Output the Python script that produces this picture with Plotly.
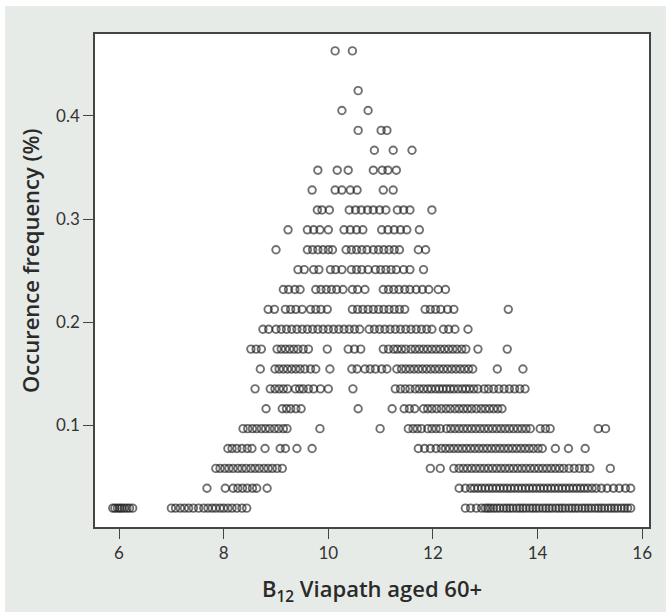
import plotly.graph_objects as go

# Occurrence frequency levels (%) - each row of points in the chart
freq_levels = [0.0193, 0.0386, 0.0579, 0.0772, 0.0965, 0.1158, 0.1351, 0.1544,
               0.1737, 0.1930, 0.2123, 0.2316, 0.2509, 0.2702, 0.2895, 0.3088,
               0.3281, 0.3474, 0.3667, 0.3860, 0.4053, 0.4246, 0.4632]

# B12 values observed at each frequency level
b12_f01 = [5.88, 5.92, 5.97, 6.01, 6.05, 6.10, 6.15, 6.20, 6.26,
           7.00, 7.08, 7.17, 7.25, 7.33, 7.42, 7.52, 7.62, 7.70, 7.78, 7.85, 7.93, 8.00,
           8.08, 8.16, 8.25, 8.35, 8.44,
           12.62, 12.72, 12.83, 12.93, 13.00, 13.05, 13.10, 13.16, 13.22, 13.28, 13.35,
           13.41, 13.47, 13.53, 13.60, 13.66, 13.72, 13.78, 13.85, 13.91, 13.97, 14.03,
           14.10, 14.16, 14.22, 14.28, 14.35, 14.41, 14.47, 14.53, 14.60, 14.66, 14.72,
           14.78, 14.85, 14.91, 14.97, 15.03, 15.10, 15.16, 15.22, 15.28, 15.35, 15.41,
           15.47, 15.53, 15.60, 15.66, 15.72, 15.78]
b12_f02 = [7.68, 8.03, 8.18, 8.27, 8.36, 8.45, 8.55, 8.63, 8.83,
           12.50, 12.62, 12.72, 12.79, 12.86, 12.93, 13.00, 13.07, 13.14, 13.21, 13.28,
           13.35, 13.42, 13.49, 13.56, 13.63, 13.70, 13.77, 13.84, 13.91, 13.98, 14.05,
           14.12, 14.19, 14.26, 14.33, 14.40, 14.47, 14.54, 14.61, 14.68, 14.75, 14.82,
           14.89, 14.96, 15.04, 15.12, 15.22, 15.33, 15.45, 15.56, 15.68, 15.78]
b12_f03 = [7.85, 7.93, 8.02, 8.10, 8.18, 8.27, 8.35, 8.43, 8.52, 8.60, 8.68, 8.77,
           8.85, 8.93, 9.02, 9.12,
           11.95, 12.14, 12.40, 12.50, 12.58, 12.66, 12.74, 12.82, 12.90, 12.98, 13.06,
           13.14, 13.22, 13.30, 13.38, 13.46, 13.54, 13.62, 13.70, 13.78, 13.86, 13.94,
           14.02, 14.10, 14.18, 14.26, 14.34, 14.42, 14.50, 14.60, 14.70, 14.80, 14.90,
           15.00, 15.39]
b12_f04 = [8.08, 8.16, 8.25, 8.35, 8.45, 8.54, 8.79, 9.08, 9.18, 9.40, 9.69,
           11.72, 11.84, 11.95, 12.06, 12.16, 12.24, 12.32, 12.40, 12.48, 12.56, 12.64,
           12.72, 12.80, 12.88, 12.96, 13.04, 13.12, 13.20, 13.28, 13.36, 13.44, 13.52,
           13.60, 13.68, 13.76, 13.84, 13.92, 14.01, 14.09, 14.34, 14.59, 14.91]
b12_f05 = [8.37, 8.46, 8.55, 8.63, 8.72, 8.80, 8.88, 8.97, 9.05, 9.14, 9.21, 9.84, 10.99,
           11.53, 11.62, 11.70, 11.78, 11.90, 11.98, 12.06, 12.14, 12.26, 12.34, 12.42,
           12.50, 12.58, 12.66, 12.74, 12.82, 12.90, 12.98, 13.06, 13.14, 13.22, 13.30,
           13.38, 13.46, 13.54, 13.62, 13.70, 13.78, 13.86, 14.05, 14.15, 14.24, 15.16, 15.30]
b12_f06 = [8.81, 9.12, 9.20, 9.28, 9.38, 9.48, 10.57,
           11.22, 11.45, 11.55, 11.65, 11.82, 11.90, 11.98, 12.07, 12.16, 12.25, 12.33,
           12.42, 12.50, 12.58, 12.66, 12.74, 12.83, 12.92, 13.00, 13.08, 13.16, 13.24, 13.32]
b12_f07 = [8.60, 8.89, 8.98, 9.06, 9.14, 9.22, 9.37, 9.45, 9.52, 9.62, 9.72, 9.85, 10.00,
           10.47, 11.28, 11.38, 11.47, 11.56, 11.66, 11.74, 11.82, 11.90, 11.97, 12.05,
           12.12, 12.19, 12.26, 12.33, 12.40, 12.48, 12.56, 12.63, 12.70, 12.78, 12.86,
           12.98, 13.06, 13.16, 13.26, 13.36, 13.46, 13.56, 13.66, 13.76]
b12_f08 = [8.70, 8.98, 9.06, 9.14, 9.22, 9.30, 9.38, 9.46, 9.55, 9.66, 9.76, 10.03,
           10.45, 10.55, 10.70, 10.80, 10.90, 11.02, 11.12, 11.31, 11.40, 11.48, 11.56,
           11.64, 11.72, 11.80, 11.88, 11.96, 12.04, 12.12, 12.20, 12.28, 12.36, 12.44,
           12.52, 12.60, 12.68, 12.76, 13.23, 13.72]
b12_f09 = [8.52, 8.62, 8.72, 9.02, 9.10, 9.18, 9.26, 9.34, 9.42, 9.52, 9.62, 9.98,
           10.38, 10.50, 10.62, 11.05, 11.15, 11.25, 11.32, 11.40, 11.48, 11.58, 11.66,
           11.74, 11.82, 11.90, 11.98, 12.06, 12.14, 12.22, 12.30, 12.38, 12.46, 12.55,
           12.63, 12.86, 13.42]
b12_f10 = [8.75, 8.86, 9.00, 9.10, 9.20, 9.30, 9.40, 9.50, 9.60, 9.70, 9.80, 9.90,
           10.00, 10.10, 10.20, 10.30, 10.40, 10.50, 10.60, 10.78, 10.88, 10.98, 11.08,
           11.18, 11.28, 11.38, 11.48, 11.58, 11.68, 11.78, 11.88, 11.98, 12.20, 12.30,
           12.42, 12.67]
b12_f11 = [8.85, 8.97, 9.18, 9.28, 9.38, 9.50, 9.66, 9.76, 9.86, 9.98, 10.46, 10.56,
           10.66, 10.76, 10.86, 10.96, 11.06, 11.16, 11.26, 11.36, 11.46, 11.85, 11.95,
           12.05, 12.15, 12.28, 12.40, 13.44]
b12_f12 = [9.14, 9.24, 9.36, 9.46, 9.76, 9.86, 9.96, 10.06, 10.16, 10.28, 10.46, 10.56,
           10.70, 11.05, 11.15, 11.25, 11.35, 11.46, 11.56, 11.68, 11.80, 11.92, 12.10, 12.24]
b12_f13 = [9.42, 9.54, 9.72, 9.82, 10.04, 10.14, 10.26, 10.44, 10.54, 10.64, 10.76,
           10.90, 11.00, 11.10, 11.20, 11.30, 11.44, 11.56, 11.82]
b12_f14 = [9.00, 9.60, 9.70, 9.80, 9.90, 10.00, 10.08, 10.34, 10.44, 10.54, 10.64,
           10.74, 10.86, 10.96, 11.06, 11.16, 11.26, 11.36, 11.72, 11.86]
b12_f15 = [9.23, 9.60, 9.72, 9.84, 10.00, 10.30, 10.42, 10.54, 10.66, 11.02, 11.14,
           11.26, 11.38, 11.50, 11.74]
b12_f16 = [9.79, 9.88, 10.02, 10.40, 10.52, 10.63, 10.75, 10.86, 10.98, 11.10, 11.32,
           11.44, 11.56, 11.98]
b12_f17 = [9.69, 10.13, 10.26, 10.42, 10.55, 11.05, 11.24]
b12_f18 = [9.80, 10.17, 10.38, 10.86, 11.03, 11.14, 11.30]
b12_f19 = [10.88, 11.24, 11.60]
b12_f20 = [10.57, 11.01, 11.12]
b12_f21 = [10.26, 10.76]
b12_f22 = [10.57]
b12_f24 = [10.13, 10.46]

b12_rows = [b12_f01, b12_f02, b12_f03, b12_f04, b12_f05, b12_f06, b12_f07, b12_f08,
            b12_f09, b12_f10, b12_f11, b12_f12, b12_f13, b12_f14, b12_f15, b12_f16,
            b12_f17, b12_f18, b12_f19, b12_f20, b12_f21, b12_f22, b12_f24]

x_ticks = [6, 8, 10, 12, 14, 16]
y_ticks = [0.1, 0.2, 0.3, 0.4]
y_tick_labels = ["0.1", "0.2", "0.3", "0.4"]

xs, ys = [], []
for f, row in zip(freq_levels, b12_rows):
    xs.extend(row)
    ys.extend([f] * len(row))

fig = go.Figure()
fig.add_trace(go.Scatter(
    x=xs, y=ys, mode="markers",
    marker=dict(symbol="circle-open", size=7.5, color="rgba(25,25,25,0.62)",
                line=dict(width=1.9)),
    hoverinfo="x+y", showlegend=False))

tick_font = dict(family="Lato, Roboto, sans-serif", size=17, color="#333333")
title_font = dict(family="Open Sans, Lato, sans-serif", size=22, color="#2a2a2a",
                  weight=600)
fig.update_layout(
    width=666, height=612,
    margin=dict(l=95, r=17, t=34, b=85),
    paper_bgcolor="#e7ebe8", plot_bgcolor="#ffffff",
    xaxis=dict(range=[5.54, 16.13], tickvals=x_ticks, ticks="outside", ticklen=10,
               tickwidth=1.3, tickcolor="#444", showline=True, mirror=True,
               linecolor="#444", linewidth=1.6, showgrid=False, zeroline=False,
               tickfont=tick_font),
    yaxis=dict(range=[0.001, 0.4796], tickvals=y_ticks, ticktext=y_tick_labels,
               ticks="outside", ticklen=10, tickwidth=1.3, tickcolor="#444",
               showline=True, mirror=True, linecolor="#444", linewidth=1.6,
               showgrid=False, zeroline=False, tickfont=tick_font),
    annotations=[
        dict(text="B<sub>12</sub> Viapath aged 60+", xref="paper", yref="paper",
             x=0.5, y=-0.128, xanchor="center", yanchor="middle", showarrow=False,
             font=title_font),
        dict(text="Occurence frequency (%)", xref="paper", yref="paper",
             x=-0.117, y=0.54, xanchor="center", yanchor="middle", showarrow=False,
             textangle=-90, font=title_font),
    ],
    shapes=[
        dict(type="rect", xref="paper", yref="paper", x0=-0.3, x1=1.2, y0=1.0568, y1=1.2,
             fillcolor="white", line=dict(width=0), layer="above"),
        dict(type="rect", xref="paper", yref="paper", x0=-0.3, x1=-0.1625, y0=-0.3, y1=1.2,
             fillcolor="white", line=dict(width=0), layer="above"),
    ],
)

fig.write_html("out.html")
